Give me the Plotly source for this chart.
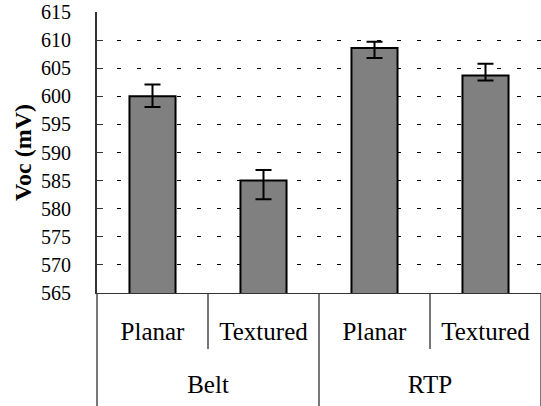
import plotly.graph_objects as go

groups = ["Belt", "Belt", "RTP", "RTP"]
surfaces = ["Planar", "Textured", "Planar", "Textured"]
voc = [600.0, 585.0, 608.6, 603.7]
err_plus = [2.1, 1.9, 1.1, 2.1]
err_minus = [1.9, 3.3, 1.8, 0.9]
y_min, y_max, y_step = 565, 615, 5

FONT = "'Liberation Serif', 'Times New Roman', Times, serif"

keys = [g + " " + s for g, s in zip(groups, surfaces)]
idx = list(range(len(keys)))
group_names = list(dict.fromkeys(groups))
group_centers = [sum(i for i, g in zip(idx, groups) if g == name) /
                 groups.count(name) for name in group_names]
group_bounds = [-0.5] + [max(i for i, g in zip(idx, groups) if g == name) + 0.5
                         for name in group_names]

fig = go.Figure()
fig.add_trace(go.Bar(
    x=keys,
    y=voc,
    marker=dict(color="#808080", line=dict(color="black", width=2)),
    error_y=dict(type="data", symmetric=False, array=err_plus, arrayminus=err_minus,
                 color="black", thickness=2, width=8),
))
# helper trace so the group axis is drawn
fig.add_trace(go.Scatter(
    x=group_centers, y=[y_min] * len(group_centers), xaxis="x2", yaxis="y",
    mode="markers", marker=dict(opacity=0), hoverinfo="skip", showlegend=False,
))

fig.update_layout(
    width=541, height=406,
    margin=dict(l=97, r=0, t=12, b=113),
    paper_bgcolor="white", plot_bgcolor="white",
    font=dict(family=FONT, color="black", size=24),
    bargap=0.585,
    showlegend=False,
    xaxis=dict(
        type="category", automargin=False,
        tickvals=keys, ticktext=surfaces,
        showline=True, linecolor="#333333", linewidth=1,
        ticks="outside", tickson="boundaries", ticklen=55,
        tickcolor="#777777", tickwidth=2,
        tickfont=dict(family=FONT, size=25, color="black"),
        ticklabelstandoff=16,
        showgrid=False, zeroline=False,
    ),
    xaxis2=dict(
        overlaying="x", side="bottom", anchor="y", automargin=False,
        range=[-0.5, len(keys) - 0.5],
        tickvals=group_centers, ticktext=group_names,
        ticks="", showline=False, showgrid=False, zeroline=False,
        tickfont=dict(family=FONT, size=25, color="black"),
        ticklabelstandoff=74,
        minor=dict(tickvals=group_bounds, ticks="outside", ticklen=113,
                   tickcolor="#777777", tickwidth=2, showgrid=False),
    ),
    yaxis=dict(
        range=[y_min, y_max], dtick=y_step, tick0=y_min, automargin=False,
        showline=True, linecolor="#333333", linewidth=2,
        ticks="inside", ticklen=6, tickcolor="#333333", tickwidth=1,
        tickfont=dict(family=FONT, size=20, color="black"), ticklabelstandoff=20,
        showgrid=True, gridcolor="black", gridwidth=1, griddash="4px,16px",
        zeroline=False,
        title=dict(text="<b>Voc (mV)</b>", font=dict(family=FONT, size=24, color="black"),
                   standoff=3),
    ),
)

# remove the default page margin so the 541x406 figure fills the window exactly
fig.write_html("out.html", config={"displayModeBar": False},
               post_script="document.body.style.margin='0';")
